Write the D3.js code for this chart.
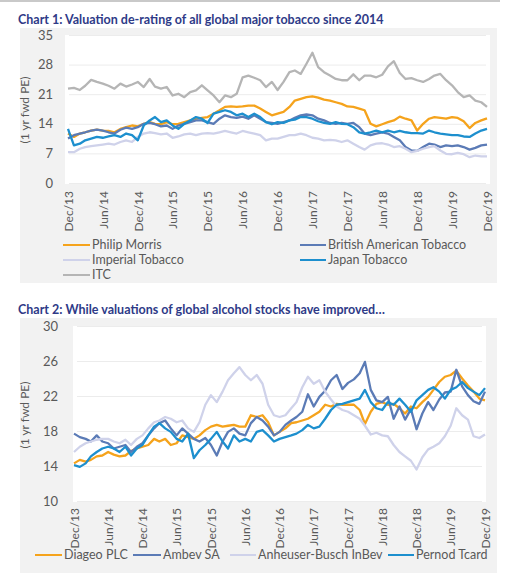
<!DOCTYPE html>
<html>
<head>
<meta charset="utf-8">
<script src="https://cdn.jsdelivr.net/npm/d3@7"></script>
<style>
  body { margin: 0; background: #fff; }
  svg { font-family: Lato, 'Open Sans', sans-serif; }
</style>
</head>
<body>
<svg id="chart" width="506" height="580"></svg>
<script>
// monthly readings, Dec/13 .. Dec/19 (73 points)
const months = d3.timeMonth.range(new Date(2013, 11, 1), new Date(2020, 0, 1))
const xTickLabels = ['Dec/13', 'Jun/14', 'Dec/14', 'Jun/15', 'Dec/15', 'Jun/16', 'Dec/16',
  'Jun/17', 'Dec/17', 'Jun/18', 'Dec/18', 'Jun/19', 'Dec/19']

// chart 1 - tobacco
const tobaccoTicks = [0, 7, 14, 21, 28, 35]
const philipMorris = [11.7,
  10.9, 11.7, 12, 12.4, 12.6, 12.4, 12.3, 12, 12.8, 13.2, 13.6, 13.4,
  14, 14.4, 14, 13.9, 14.4, 13.9, 14, 14.4, 14.8, 15.2, 15.4, 15.6,
  16.4, 17.2, 18, 18.1, 18, 18.1, 18.3, 18.3, 17.6, 16.8, 16, 16.4,
  16.8, 18, 19.5, 19.9, 20.3, 20.5, 20.2, 19.7, 19.5, 19.1, 18.7, 18.1,
  18, 17.6, 17.2, 14, 13.4, 13.9, 14.4, 14.8, 15.7, 15.2, 14.8, 12.4,
  14, 15.2, 15.6, 15.4, 15.2, 15.6, 15.4, 14.6, 13, 14.2, 14.8, 15.3]
const bat = [10.5,
  11.3, 11.7, 12, 12.4, 12.6, 12.4, 12, 11.7, 12.6, 13.1, 12.8, 13.2,
  14, 14.2, 13.9, 13.4, 13.6, 12.8, 13.6, 14, 14.4, 14.8, 14.8, 14.4,
  14, 15.2, 16, 15.6, 15.4, 15.7, 15.2, 16, 15.2, 14.4, 14.2, 14,
  14.4, 14.8, 15.4, 16, 16.2, 16, 15.2, 14.8, 14.2, 14, 14.2, 14,
  14.2, 13.2, 11.7, 11.3, 11.7, 12, 11.7, 10.9, 10.1, 8.5, 7.7, 7.6,
  8.5, 9.3, 9.1, 8.5, 8.9, 8.7, 8.9, 8.5, 7.9, 8.3, 8.9, 9.1]
const imperial = [7.3,
  7.3, 8.1, 8.5, 8.7, 8.9, 9.1, 9.3, 9.1, 9.7, 10.1, 9.7, 10.9,
  11.7, 12, 11.8, 11.5, 11.7, 10.7, 11, 11.5, 11.7, 11.3, 11.7, 11.8,
  11.7, 12, 12.3, 12, 11.7, 12.3, 12, 11.7, 11.3, 10.1, 10.5, 10.5,
  10.9, 11.3, 11.3, 11.7, 11.3, 10.7, 10.5, 10.1, 10.2, 10.1, 9.7, 10.1,
  9.3, 8.5, 7.9, 8.9, 9.3, 9.4, 9.1, 8.5, 8.7, 8.1, 7.3, 7.6,
  8.1, 8.5, 8.7, 7.7, 6.9, 6.8, 7.1, 6.8, 6.1, 6.5, 6.3, 6.3]
const japanTobacco = [12.8,
  8.9, 9.3, 10.1, 10.5, 10.9, 10.7, 11, 11.3, 10.9, 11.7, 11.3, 10.1,
  13.6, 14.8, 15.6, 14.4, 14.8, 13.6, 12.8, 14, 14.8, 15.6, 15.2, 14.2,
  16.4, 16.8, 17.2, 16.8, 16, 16.4, 15.6, 16.4, 15.6, 14.4, 13.9, 14.4,
  14.2, 14.8, 15, 15.6, 15.6, 15.2, 14.6, 14.2, 14, 14.4, 14, 13.9,
  13.2, 12, 11.7, 12, 12.4, 12, 12.4, 12, 12.3, 12, 11.8, 11.8,
  11.7, 12.4, 12, 11.7, 11.5, 11.3, 11.3, 11, 10.9, 11.7, 12.4, 12.8]
const itc = [22.3,
  22.5, 22, 23, 24.4, 23.9, 23.5, 23, 22.3, 23.5, 22.8, 23.3, 23.9,
  22.7, 24.6, 22.8, 22.3, 22.7, 20.7, 21.1, 20.3, 21.5, 21.9, 23.1, 21.9,
  20.7, 19.1, 20.7, 20.3, 21.1, 25, 25.4, 24.9, 24.3, 22.7, 23.9, 22,
  23.9, 26.2, 26.6, 25.8, 28.2, 30.8, 27.4, 26.2, 25.4, 24.6, 24.3, 24.3,
  25.7, 24.3, 25.4, 25.4, 25, 25.6, 27.6, 28.8, 26, 24.6, 24.8, 24.3,
  23.9, 24.6, 25.4, 25.8, 24.3, 23.1, 21.5, 20.3, 20.7, 19.5, 19.1, 18]

// chart 2 - alcohol
const alcoholTicks = [10, 14, 18, 22, 26, 30]
const diageo = [14.3,
  14.7, 14.5, 14.7, 15.1, 15.2, 15.6, 15.3, 15.1, 15.2, 15.7, 16, 16.2,
  16.4, 17.1, 16.8, 17.1, 16.4, 16.6, 17.5, 17.3, 17.1, 17.5, 18.1, 18.5,
  18.7, 18.5, 18.6, 18.7, 18.5, 18.5, 19.8, 19.6, 19.8, 19, 17.5, 17.9,
  18.3, 18.9, 19, 19.2, 19.4, 19.8, 20.2, 21, 20.8, 21.1, 21, 21,
  21, 20.4, 18.8, 20.2, 21.1, 21.3, 21, 21.1, 20.6, 20, 20.8, 20.6,
  21.3, 21.9, 22.7, 23.6, 24.2, 24.4, 24.9, 24, 23.2, 22.5, 21.7, 21.5]
const ambev = [17.7,
  17.3, 17.1, 16.8, 17.5, 16.8, 16.6, 16, 16.2, 16.4, 15.6, 16.2, 16.6,
  17.5, 18.3, 18.9, 19.2, 18.3, 17.5, 18.3, 17.7, 17.1, 16.8, 17.2, 16.4,
  15.2, 16.8, 17.9, 18.3, 17.7, 17.5, 18.9, 19.6, 19.2, 18.5, 17.5, 17.9,
  18.7, 19.2, 19.6, 20.2, 22.2, 20.8, 21.9, 22.6, 23.8, 24.4, 22.8, 23.5,
  23.9, 24.6, 25.9, 22.7, 21.5, 21.3, 21.9, 19.4, 20.8, 19.3, 20.5, 18.2,
  20, 21.3, 20.4, 21.6, 22.4, 22.5, 25, 23.1, 22.1, 21.4, 21.1, 22.5]
const abInbev = [15.6,
  16.2, 16.6, 16.8, 17, 17.1, 17.1, 16.8, 16.6, 17, 16.4, 17.1, 17.5,
  18.3, 19, 19.2, 19.6, 19.4, 19, 19.2, 18.3, 17.9, 19, 21, 22.1,
  21.3, 22.5, 23.8, 24.6, 25.3, 24.4, 23.8, 24.4, 23.4, 21, 19.8, 19.6,
  19.8, 20.6, 21.3, 23, 24.2, 23.4, 23.8, 22.5, 21.6, 20.8, 20.4, 20.2,
  19.8, 19.4, 18.6, 17.6, 17.8, 17.5, 17.4, 16.4, 15.6, 15.1, 14.6, 13.6,
  15, 15.9, 16.2, 16.6, 17.4, 18.6, 20.6, 19.8, 19.3, 17.4, 17.2, 17.6]
const pernod = [14.1,
  13.9, 14.3, 15.1, 15.6, 16, 16.2, 16, 15.6, 16.2, 15.2, 16, 16.4,
  17.5, 18.5, 18.9, 18.3, 17.9, 17.1, 16.8, 17.7, 14.9, 15.8, 16.4, 17.1,
  17.9, 16.8, 16, 17.5, 16.8, 17.1, 16.8, 17.9, 18.1, 17.5, 16.8, 17.1,
  17.3, 17.5, 17.7, 18.1, 18.7, 18.3, 18.5, 19.4, 20.4, 21, 21.1, 21.3,
  21.5, 21.7, 22.7, 21.3, 20.6, 20.4, 21.3, 21, 21.7, 21, 20.2, 21.5,
  22.1, 22.7, 23, 22.5, 21.7, 22.7, 23, 23.6, 22.9, 22.5, 22.1, 22.9]

const colors = {
  orange: '#f5a31c',
  slate: '#5b7bb6',
  lavender: '#cfd2ea',
  blue: '#1d8fce',
  grey: '#b5b5b5',
}

const svg = d3.select('#chart')
const parseTick = d3.timeParse('%b/%y')
const textColor = '#595959'

svg.append('rect').attr('x', 0).attr('y', 0).attr('width', 500).attr('height', 2).attr('fill', '#c9c9c9')

const drawChart = (cfg) => {
  const g = svg.append('g')

  g.append('rect')
    .attr('x', cfg.panel[0]).attr('y', cfg.panel[1])
    .attr('width', cfg.panel[2]).attr('height', cfg.panel[3])
    .attr('fill', '#f2f2f2')

  g.append('text')
    .attr('x', 18).attr('y', cfg.titleY)
    .attr('fill', '#2e3a87')
    .attr('font-weight', 700)
    .attr('font-size', 12.5)
    .text(cfg.title)

  const x = d3.scaleTime()
    .domain([months[0], months[months.length - 1]])
    .range(cfg.xRange)
  const y = d3.scaleLinear().domain(d3.extent(cfg.yTicks)).range(cfg.yRange)

  g.append('rect')
    .attr('x', cfg.plotX[0]).attr('y', cfg.yRange[1])
    .attr('width', cfg.plotX[1] - cfg.plotX[0])
    .attr('height', cfg.yRange[0] - cfg.yRange[1] + 1)
    .attr('fill', '#fff')

  // gridlines
  g.append('g')
    .selectAll('line')
    .data(cfg.yTicks)
    .join('line')
    .attr('x1', cfg.plotX[0] + 4).attr('x2', cfg.plotX[1] - 4)
    .attr('y1', (d) => y(d) + 0.5).attr('y2', (d) => y(d) + 0.5)
    .attr('stroke', '#ececec')

  const yAxis = g.append('g')
    .attr('transform', `translate(${cfg.yLabelX},0)`)
    .call(d3.axisLeft(y).tickValues(cfg.yTicks).tickSize(0).tickPadding(0))
  yAxis.select('.domain').remove()
  yAxis.selectAll('text').attr('fill', textColor).attr('font-size', 13)
    .style('font-family', 'Lato, sans-serif')

  g.append('text')
    .attr('transform', `translate(29,${cfg.yTitleY}) rotate(-90)`)
    .attr('text-anchor', 'middle')
    .attr('fill', textColor)
    .attr('font-size', 12)
    .text('(1 yr fwd PE)')

  const xAxis = g.append('g')
    .attr('transform', `translate(0,${cfg.xLabelY})`)
    .call(d3.axisBottom(x).tickValues(xTickLabels.map(parseTick)).tickSize(0)
      .tickFormat(d3.timeFormat('%b/%y')))
  xAxis.select('.domain').remove()
  xAxis.selectAll('text')
    .attr('transform', 'rotate(-90)')
    .attr('text-anchor', 'end')
    .attr('x', 0).attr('y', 0).attr('dy', '0.35em')
    .attr('fill', textColor).attr('font-size', 12)
    .style('font-family', 'Lato, sans-serif')

  const line = d3.line()
    .x((d, i) => x(months[i]))
    .y((d) => y(d))

  g.append('g')
    .selectAll('path')
    .data(cfg.series)
    .join('path')
    .attr('d', (s) => line(s.values))
    .attr('fill', 'none')
    .attr('stroke', (s) => s.color)
    .attr('stroke-width', 2.3)
    .attr('stroke-linejoin', 'round')

  const legend = g.append('g')
    .selectAll('g')
    .data(cfg.series)
    .join('g')
    .attr('transform', (s) => `translate(${s.lx},${s.ly})`)
  legend.append('line')
    .attr('x1', 0).attr('x2', (s) => s.lw)
    .attr('stroke', (s) => s.color)
    .attr('stroke-width', 2)
  legend.append('text')
    .attr('x', (s) => s.lw + 2)
    .attr('dy', '0.35em')
    .attr('fill', textColor)
    .attr('font-size', 12.5)
    .text((s) => s.name)
}

drawChart({
  title: 'Chart 1: Valuation de-rating of all global major tobacco since 2014',
  titleY: 24,
  panel: [20, 28, 477, 255],
  plotX: [65, 490],
  xRange: [68, 487],
  yRange: [183, 35],
  yTicks: tobaccoTicks,
  yLabelX: 53,
  yTitleY: 110,
  xLabelY: 191,
  series: [
    {name: 'Philip Morris', values: philipMorris, color: colors.orange, lx: 63, ly: 245, lw: 27},
    {name: 'British American Tobacco', values: bat, color: colors.slate, lx: 300, ly: 245, lw: 26},
    {name: 'Imperial Tobacco', values: imperial, color: colors.lavender, lx: 63, ly: 260, lw: 27},
    {name: 'Japan Tobacco', values: japanTobacco, color: colors.blue, lx: 300, ly: 260, lw: 26},
    {name: 'ITC', values: itc, color: colors.grey, lx: 63, ly: 275, lw: 27},
  ],
})

drawChart({
  title: 'Chart 2: While valuations of global alcohol stocks have improved\u2026',
  titleY: 314,
  panel: [20, 318, 477, 255],
  plotX: [73, 486],
  xRange: [74, 485],
  yRange: [501, 326],
  yTicks: alcoholTicks,
  yLabelX: 58,
  yTitleY: 415,
  xLabelY: 508,
  series: [
    {name: 'Diageo PLC', values: diageo, color: colors.orange, lx: 35, ly: 555, lw: 27},
    {name: 'Ambev SA', values: ambev, color: colors.slate, lx: 133, ly: 555, lw: 28},
    {name: 'Anheuser-Busch InBev', values: abInbev, color: colors.lavender, lx: 230, ly: 555, lw: 26},
    {name: 'Pernod Tcard', values: pernod, color: colors.blue, lx: 388, ly: 555, lw: 26},
  ],
})
</script>
</body>
</html>
